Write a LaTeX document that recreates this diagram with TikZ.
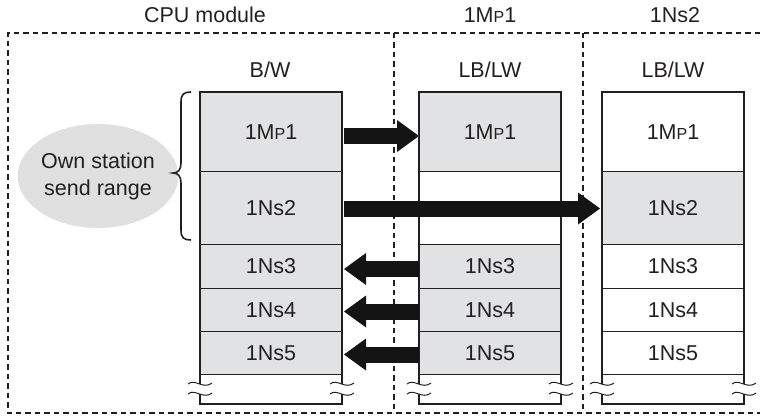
\documentclass[tikz,border=0pt]{standalone}
\usepackage{fontspec}
\setmainfont{Liberation Sans}
\usetikzlibrary{arrows.meta,calc,shapes.geometric}
\definecolor{boxgray}{HTML}{E1E2E3}
\definecolor{ellgray}{HTML}{E0E0E1}
\definecolor{ink}{HTML}{231F20}
\newcommand{\smP}{{\fontsize{16}{16}\selectfont P}}
\begin{document}
\begin{tikzpicture}[x=1pt,y=-1pt, font=\fontsize{21.5}{27}\selectfont, text=ink,
 row/.style={draw=ink, line width=1pt, minimum width=141pt, inner sep=0pt, anchor=north west},
 g/.style={fill=boxgray},
 frame/.style={draw=ink, line width=2pt},
 dsh/.style={draw=ink, line width=2pt, dash pattern=on 5.5pt off 4pt},
 big/.style={line width=16pt, draw=black!92, -{Triangle[length=22pt,width=32pt,line width=0pt]}},
 brk/.pic={
   \fill[white] (-12,-5) .. controls (-5,-11) and (3,1) .. (12,-6) -- (12,4) .. controls (3,11) and (-5,-1) .. (-12,5) -- cycle;
   \draw[ink, line width=1pt] (-12,-5) .. controls (-5,-11) and (3,1) .. (12,-6);
   \draw[ink, line width=1pt] (-12,5) .. controls (-5,-1) and (3,11) .. (12,4);
 },
]
\useasboundingbox (0,0) rectangle (760,420);

% dashed frame and dividers
\draw[dsh] (760,33) -- (8,33) -- (8,413) -- (760,413);
\draw[dsh] (394,33) -- (394,413);
\draw[dsh] (583,33) -- (583,413);

% headers
\node (hcpu) at (205,15) {CPU module};
\node (hm) at (490,15) {1M\smP1};
\node (hn) at (675,15) {1Ns2};
\node (bw) at (270,70) {B/W};
\node (lbm) at (490,70) {LB/LW};
\node (lbn) at (673,70) {LB/LW};

% CPU column
\node[row,g,minimum height=79pt] (c1) at (200,92) {1M\smP1};
\node[row,g,minimum height=73pt] (c2) at (200,171) {1Ns2};
\node[row,g,minimum height=44pt] (c3) at (200,244) {1Ns3};
\node[row,g,minimum height=43pt] (c4) at (200,288) {1Ns4};
\node[row,g,minimum height=43pt] (c5) at (200,331) {1Ns5};
\node[row,fill=white,minimum height=29pt] (c6) at (200,374) {};
\draw[frame] (c1.north west) rectangle (c6.south east);

% 1MP1 column
\node[row,g,minimum height=79pt] (m1) at (419,92) {1M\smP1};
\node[row,fill=white,minimum height=73pt] (m2) at (419,171) {};
\node[row,g,minimum height=44pt] (m3) at (419,244) {1Ns3};
\node[row,g,minimum height=43pt] (m4) at (419,288) {1Ns4};
\node[row,g,minimum height=43pt] (m5) at (419,331) {1Ns5};
\node[row,fill=white,minimum height=29pt] (m6) at (419,374) {};
\draw[frame] (m1.north west) rectangle (m6.south east);

% 1Ns2 column
\node[row,fill=white,minimum height=79pt] (r1) at (602,92) {1M\smP1};
\node[row,g,minimum height=73pt] (r2) at (602,171) {1Ns2};
\node[row,fill=white,minimum height=44pt] (r3) at (602,244) {1Ns3};
\node[row,fill=white,minimum height=43pt] (r4) at (602,288) {1Ns4};
\node[row,fill=white,minimum height=43pt] (r5) at (602,331) {1Ns5};
\node[row,fill=white,minimum height=29pt] (r6) at (602,374) {};
\draw[frame] (r1.north west) rectangle (r6.south east);

% break marks
\foreach \n in {c6,m6,r6}{
  \pic at (\n.west) {brk};
  \pic at (\n.east) {brk};
}

% arrows
\draw[big] ([xshift=2pt,yshift=-4pt]c1.east) -- ([yshift=-4pt]m1.west);
\draw[big] ([xshift=2pt,yshift=-0.5pt]c2.east) -- ([xshift=-2pt,yshift=-0.5pt]r2.west);
\draw[big] ([yshift=-2.5pt]m3.west) -- ([xshift=2pt,yshift=-2.5pt]c3.east);
\draw[big] ([yshift=-1.5pt]m4.west) -- ([xshift=2pt,yshift=-1.5pt]c4.east);
\draw[big] ([yshift=-1.5pt]m5.west) -- ([xshift=2pt,yshift=-1.5pt]c5.east);

% own station send range
\node[ellipse, fill=ellgray, minimum width=140pt, minimum height=104pt, inner sep=0pt, align=center] (own) at (98,176) {Own station\\send range};
\draw[ink, line width=1.6pt] (191,92) .. controls (184,92) and (181,94) .. (181,102)
  -- (181,163) .. controls (181,170) and (178,173) .. (173,173)
  .. controls (178,173) and (181,176) .. (181,183)
  -- (181,230) .. controls (181,238) and (184,240) .. (191,240);
\end{tikzpicture}
\end{document}
